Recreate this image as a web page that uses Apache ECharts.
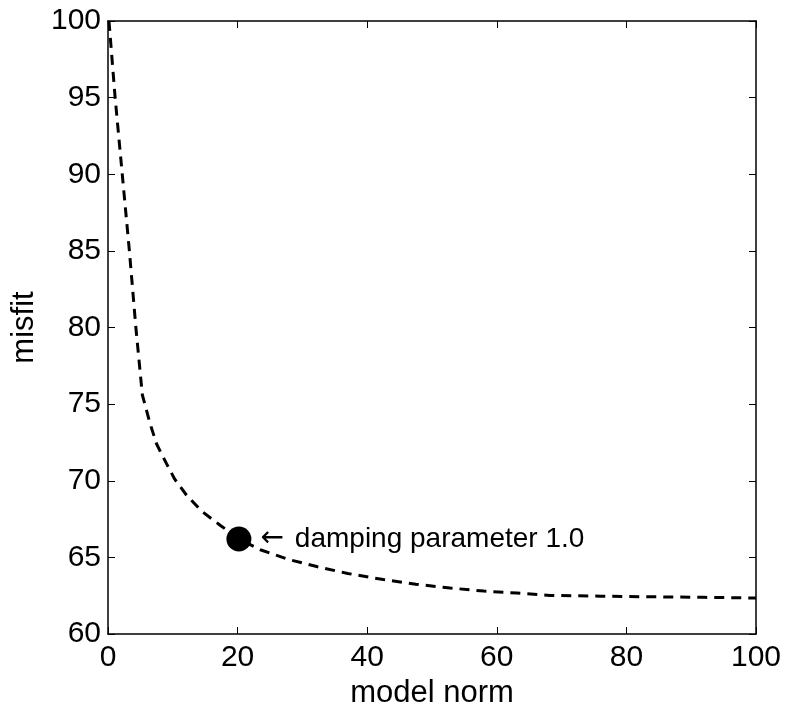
<!DOCTYPE html>
<html>
<head>
<meta charset="utf-8">
<script src="https://cdn.jsdelivr.net/npm/echarts@6/dist/echarts.min.js"></script>
<style>html,body{margin:0;padding:0;background:#fff;}#c{width:786px;height:709px;}</style>
</head>
<body>
<div id="c"></div>
<script>
// Curve data (model norm, misfit)
var modelNorm = [0.15, 1.1, 2.2, 3.3, 4.3, 5.3, 6.48, 7.5, 9.05, 10.3, 12.1, 14.5, 17.3, 20.2, 23.5, 28, 32.2, 37, 42.5, 47.5, 52.8, 58, 63.1, 68.2, 76, 83.6, 92, 100];
var misfit    = [100, 95, 90, 85, 80, 75.6, 73.75, 72.4, 71.1, 70.1, 69.07, 68.0, 67.1, 66.2, 65.5, 64.85, 64.4, 63.95, 63.55, 63.25, 63.0, 62.8, 62.67, 62.52, 62.47, 62.43, 62.39, 62.35];
// Highlighted point
var pointNorm = [20.2];
var pointMisfit = [66.2];
var pointArrow = '\u2190';
var pointText = 'damping parameter 1.0';
// Axis settings
var xTicks = [0, 20, 40, 60, 80, 100];
var yTicks = [60, 65, 70, 75, 80, 85, 90, 95, 100];

var font = 'Liberation Sans, Arial, Helvetica, sans-serif';
var chart = echarts.init(document.getElementById('c'), null, {renderer: 'canvas'});

var lineData = modelNorm.map(function (x, i) { return [x, misfit[i]]; });
var ptData = pointNorm.map(function (x, i) { return [x, pointMisfit[i]]; });

var axisCommon = {
  axisLine: {show: true, onZero: false, lineStyle: {color: '#000', width: 1.5}},
  axisTick: {show: true, inside: true, length: 7, lineStyle: {color: '#000', width: 1}},
  splitLine: {show: false}
};

chart.setOption({
  animation: false,
  backgroundColor: '#fff',
  grid: {left: 108, top: 21, right: 30, bottom: 75, containLabel: false, outerBoundsMode: 'none'},
  xAxis: [
    Object.assign({
      type: 'value', min: xTicks[0], max: xTicks[xTicks.length - 1], interval: 20,
      position: 'bottom',
      name: 'model norm', nameLocation: 'middle', nameGap: 38,
      nameTextStyle: {fontFamily: font, fontSize: 31, color: '#000'},
      axisLabel: {fontFamily: font, fontSize: 30, color: '#000', margin: 9}
    }, axisCommon),
    Object.assign({
      type: 'value', min: xTicks[0], max: xTicks[xTicks.length - 1], interval: 20,
      position: 'top', axisLabel: {show: false}
    }, axisCommon)
  ],
  yAxis: [
    Object.assign({
      type: 'value', min: yTicks[0], max: yTicks[yTicks.length - 1], interval: 5,
      position: 'left',
      name: 'misfit', nameLocation: 'middle', nameGap: 68,
      nameTextStyle: {fontFamily: font, fontSize: 31, color: '#000'},
      axisLabel: {fontFamily: font, fontSize: 30, color: '#000', margin: 7}
    }, axisCommon),
    Object.assign({
      type: 'value', min: yTicks[0], max: yTicks[yTicks.length - 1], interval: 5,
      position: 'right', axisLabel: {show: false}
    }, axisCommon)
  ],
  series: [
    {
      type: 'line', data: lineData, showSymbol: false, symbol: 'none', smooth: false,
      xAxisIndex: 0, yAxisIndex: 0,
      lineStyle: {color: '#000', width: 3, type: [10, 7]},
      z: 2
    },
    {
      type: 'scatter', data: ptData, symbol: 'circle', symbolSize: 25,
      xAxisIndex: 0, yAxisIndex: 0,
      itemStyle: {color: '#000', opacity: 1},
      label: {show: true, position: 'right', distance: 9,
        formatter: '{a|' + pointArrow + '}{b|' + pointText + '}',
        rich: {
          a: {fontFamily: 'DejaVu Sans', fontSize: 28, color: '#000', padding: [0, 11, 0, 0]},
          b: {fontFamily: font, fontSize: 28, color: '#000'}
        },
        color: '#000'},
      z: 3
    }
  ]
});
</script>
</body>
</html>
